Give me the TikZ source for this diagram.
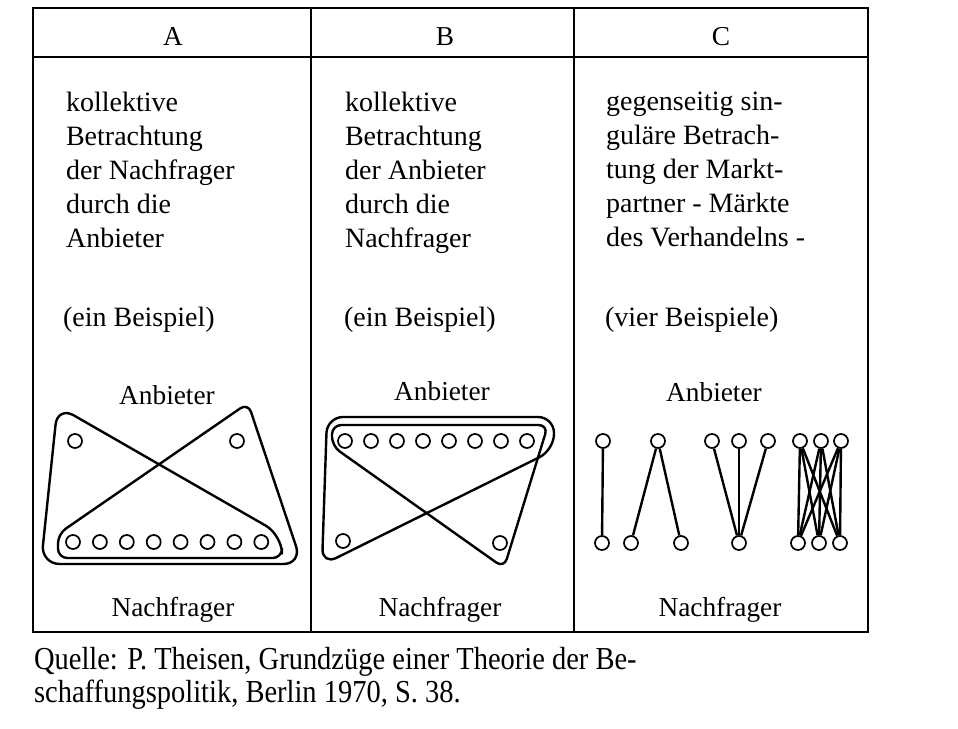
\documentclass[tikz,border=0pt]{standalone}
\usepackage{fontspec}
\setmainfont{Liberation Serif}
\newfontfamily\srcfont{Liberation Serif}[FakeStretch=0.89]
\begin{document}
\begin{tikzpicture}[x=0.75pt,y=-0.75pt,line width=1.6pt]
	\def \toprow{441}
	\def \botrow{543}
	\tikzstyle{p-node}=[circle,draw=black,line width=1.3pt,inner sep=0pt,minimum size=10.5pt]
	\tikzstyle{lasso}=[line width=1.8pt,rounded corners=8pt,line join=round]
	\tikzstyle{link}=[line width=1.8pt]
	\tikzstyle{desc}=[anchor=north west,align=left,inner sep=0pt,font=\fontsize{21}{25.5}\selectfont]
	\tikzstyle{annot}=[anchor=base,inner sep=0pt,font=\fontsize{20.5}{24}\selectfont]
	\useasboundingbox (0,0) rectangle (958,729);

	% table
	\draw (33,8) rectangle (868,632);
	\draw (33,57) -- (868,57);
	\draw (311,8) -- (311,632);
	\draw (574,8) -- (574,632);

	% headings
	\node[annot] (head-a) at (173,45) {A};
	\node[annot] (head-b) at (445,45) {B};
	\node[annot] (head-c) at (721,45) {C};

	% descriptions
	\node[desc] (desc-a) at (65,91) {kollektive\\Betrachtung\\der Nachfrager\\durch die\\Anbieter};
	\node[desc] (desc-b) at (344,91) {kollektive\\Betrachtung\\der Anbieter\\durch die\\Nachfrager};
	\node[desc] (desc-c) at (605,91) {gegenseitig sin-\\guläre Betrach-\\tung der Markt-\\partner - Märkte\\des Verhandelns -};
	\node[desc,anchor=base west] (ex-a) at (62,326) {(ein Beispiel)};
	\node[desc,anchor=base west] (ex-b) at (343,326) {(ein Beispiel)};
	\node[desc,anchor=base west] (ex-c) at (604,326) {(vier Beispiele)};

	% sides
	\node[annot] (anb-a) at (167,404) {Anbieter};
	\node[annot] (anb-b) at (442,400) {Anbieter};
	\node[annot] (anb-c) at (714,401) {Anbieter};
	\node[annot] (nach-a) at (173,616) {Nachfrager};
	\node[annot] (nach-b) at (440,616) {Nachfrager};
	\node[annot] (nach-c) at (720,616) {Nachfrager};

	% A: two Anbieter, eight Nachfrager
	\node[p-node] (a-top1) at (75,\toprow) {};
	\node[p-node] (a-top2) at (237,\toprow) {};
	\foreach \i in {0,...,7}
		\node[p-node] (a-bot\i) at (73+26.9*\i,542) {};
	\draw[lasso,rounded corners=7pt] (58,558) -- (58,534) -- (248,403) [rounded corners=14pt]
		-- (302,564) -- (41,564) -- (57.5,406) -- (282,535) [rounded corners=7pt] -- (282,558) -- cycle;

	% B: eight Anbieter, two Nachfrager
	\foreach \i in {0,...,7}
		\node[p-node] (b-top\i) at (345+26*\i,\toprow) {};
	\node[p-node] (b-bot1) at (343,541) {};
	\node[p-node] (b-bot2) at (500,543) {};
	\draw[lasso,rounded corners=12pt] (327,417) -- (554,417) -- (554,450) -- (322,565) -- cycle;
	\draw[lasso,rounded corners=7pt] (332,425) -- (548,425) -- (504,568) -- (332,446) -- cycle;

	% C: vier Beispiele
	\node[p-node] (c1-t) at (603,\toprow) {};
	\node[p-node] (c1-b) at (602,\botrow) {};
	\node[p-node] (c2-t) at (658,\toprow) {};
	\node[p-node] (c2-b1) at (631,\botrow) {};
	\node[p-node] (c2-b2) at (681,\botrow) {};
	\node[p-node] (c3-t1) at (712,\toprow) {};
	\node[p-node] (c3-t2) at (739,\toprow) {};
	\node[p-node] (c3-t3) at (768,\toprow) {};
	\node[p-node] (c3-b) at (739,\botrow) {};
	\node[p-node] (c4-t1) at (800,\toprow) {};
	\node[p-node] (c4-t2) at (821,\toprow) {};
	\node[p-node] (c4-t3) at (841,\toprow) {};
	\node[p-node] (c4-b1) at (798,\botrow) {};
	\node[p-node] (c4-b2) at (819,\botrow) {};
	\node[p-node] (c4-b3) at (840,\botrow) {};

	\path[link]
		(c1-t)	edge	(c1-b)
		(c2-t)	edge	(c2-b1)
		(c2-t)	edge	(c2-b2)
		(c3-t1)	edge	(c3-b)
		(c3-t2)	edge	(c3-b)
		(c3-t3)	edge	(c3-b);
	\foreach \t in {1,2,3}
		\foreach \b in {1,2,3}
			\path[link] (c4-t\t) edge (c4-b\b);

	% source
	\node[desc,font=\srcfont\fontsize{24}{24.75}\selectfont] (quelle) at (33,646) {Quelle: P. Theisen, Grundzüge einer Theorie der Be-\\schaffungspolitik, Berlin 1970, S. 38.};
\end{tikzpicture}
\end{document}
